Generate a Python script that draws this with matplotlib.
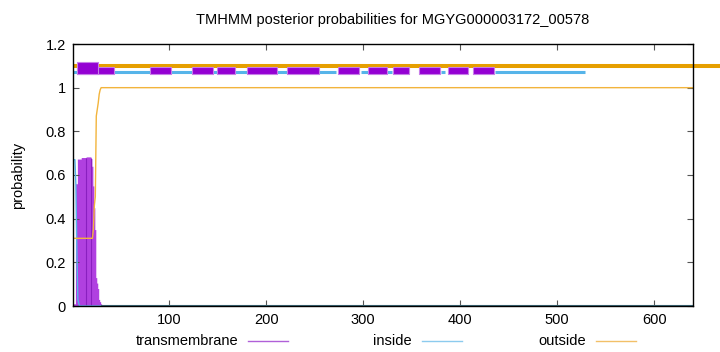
import numpy as np
import matplotlib.pyplot as plt
from matplotlib.lines import Line2D

plt.rcParams['font.family'] = ['Liberation Sans', 'DejaVu Sans']

### data ###
seq_len = 640
title = 'TMHMM posterior probabilities for MGYG000003172_00578'

# per-residue posteriors for the N-terminal part; the rest is flat
tm_head = [0.01, 0.01, 0.01, 0.56, 0.56, 0.673, 0.673, 0.673, 0.673, 0.68,
           0.68, 0.68, 0.68, 0.68, 0.683, 0.683, 0.683, 0.683, 0.683, 0.675,
           0.64, 0.55, 0.45, 0.35, 0.13, 0.105, 0.08, 0.03, 0.02, 0.01]
inside_head = [0.67, 0.67, 0.67, 0.55, 0.25, 0.03, 0.01]
outside_head = [0.31] * 21 + [0.35, 0.46, 0.5, 0.87, 0.9, 0.93, 0.97, 0.99]
tm_tail, inside_tail, outside_tail = 0.0, 0.0, 1.0

# predicted regions drawn above the curves (start, end residue)
outside_regions = [(1, 668)]
inside_regions = [(1, 232), (255, 272), (298, 313), (325, 330), (380, 384), (436, 529)]
tm_regions = [(5, 43), (80, 102), (124, 145), (149, 168), (180, 211), (222, 255),
              (274, 296), (305, 325), (331, 347), (358, 379), (387, 408), (413, 435)]
tm_strong = [(5, 27)]

xticks = [100, 200, 300, 400, 500, 600]
yticks = [0, 0.2, 0.4, 0.6, 0.8, 1.0, 1.2]
ylabels = ['0', '0.2', '0.4', '0.6', '0.8', '1', '1.2']

col_tm = '#9400d3'
col_tm_fill = '#b040e0'
col_in = '#56b4e9'
col_out = '#e69f00'

### build series ###
pos = np.arange(1, seq_len + 1)
tm = np.array(tm_head + [tm_tail] * (seq_len - len(tm_head)))
inside = np.array(inside_head + [inside_tail] * (seq_len - len(inside_head)))
outside = np.array(outside_head + [outside_tail] * (seq_len - len(outside_head)))

### plot ###
fig = plt.figure(figsize=(7.2, 3.52), dpi=100)
ax = fig.add_axes([73 / 720, 1 - 306 / 352, 620 / 720, 262 / 352])

ax.fill_between(pos, tm, step='mid', color=col_tm_fill, linewidth=0, zorder=1)
ax.vlines([14, 20], 0, 0.68, color='#8a1fc0', linewidth=0.8, zorder=1.5)
ax.plot(pos, inside, color=col_in, linewidth=1.0, zorder=2)
ax.plot(pos, outside, color='#f2b43c', linewidth=1.0, zorder=2)
ax.plot(pos[len(tm_head):], tm[len(tm_head):], color='#3f6f80', linewidth=1.5, zorder=2)

for s, e in outside_regions:
    ax.plot([s, e], [1.10, 1.10], color=col_out, linewidth=2.9, clip_on=False,
            solid_capstyle='butt', zorder=3)
for s, e in inside_regions:
    ax.plot([s, e], [1.072, 1.072], color=col_in, linewidth=2.2,
            solid_capstyle='butt', zorder=3)
ax.broken_barh([(s, e - s) for s, e in tm_regions], (1.062, 0.032),
               facecolor=col_tm, edgecolor='#c77ee8', linewidth=0.8, zorder=4)
ax.broken_barh([(s, e - s) for s, e in tm_strong], (1.062, 0.056),
               facecolor=col_tm, edgecolor='#c77ee8', linewidth=0.8, zorder=4)

ax.set_xlim(1, seq_len)
ax.set_ylim(0, 1.2)
ax.set_xticks(xticks)
ax.set_yticks(yticks)
ax.set_yticklabels(ylabels)
ax.tick_params(direction='in', top=True, right=True, length=4, labelsize=10.5,
               pad=5, color='#555555')
for sp in ax.spines.values():
    sp.set_linewidth(1.0)
    sp.set_zorder(5)
ax.set_ylabel('probability', fontsize=10.5, labelpad=15)
fig.text(393 / 720, 1 - 20 / 352, title, ha='center', va='center', fontsize=10.5)

# legend under the axis, gnuplot style
leg = [('transmembrane', '#b060d8', 238), ('inside', '#8ccbee', 412), ('outside', '#f2c068', 586)]
ly = 1 - 341 / 352
for name, c, xr in leg:
    fig.text(xr / 720, ly, name, ha='right', va='center', fontsize=10.5)
    fig.add_artist(Line2D([(xr + 10) / 720, (xr + 50) / 720], [ly, ly], color=c,
                          linewidth=1.0, transform=fig.transFigure))

fig.savefig('out.png', dpi=100)
plt.close()
